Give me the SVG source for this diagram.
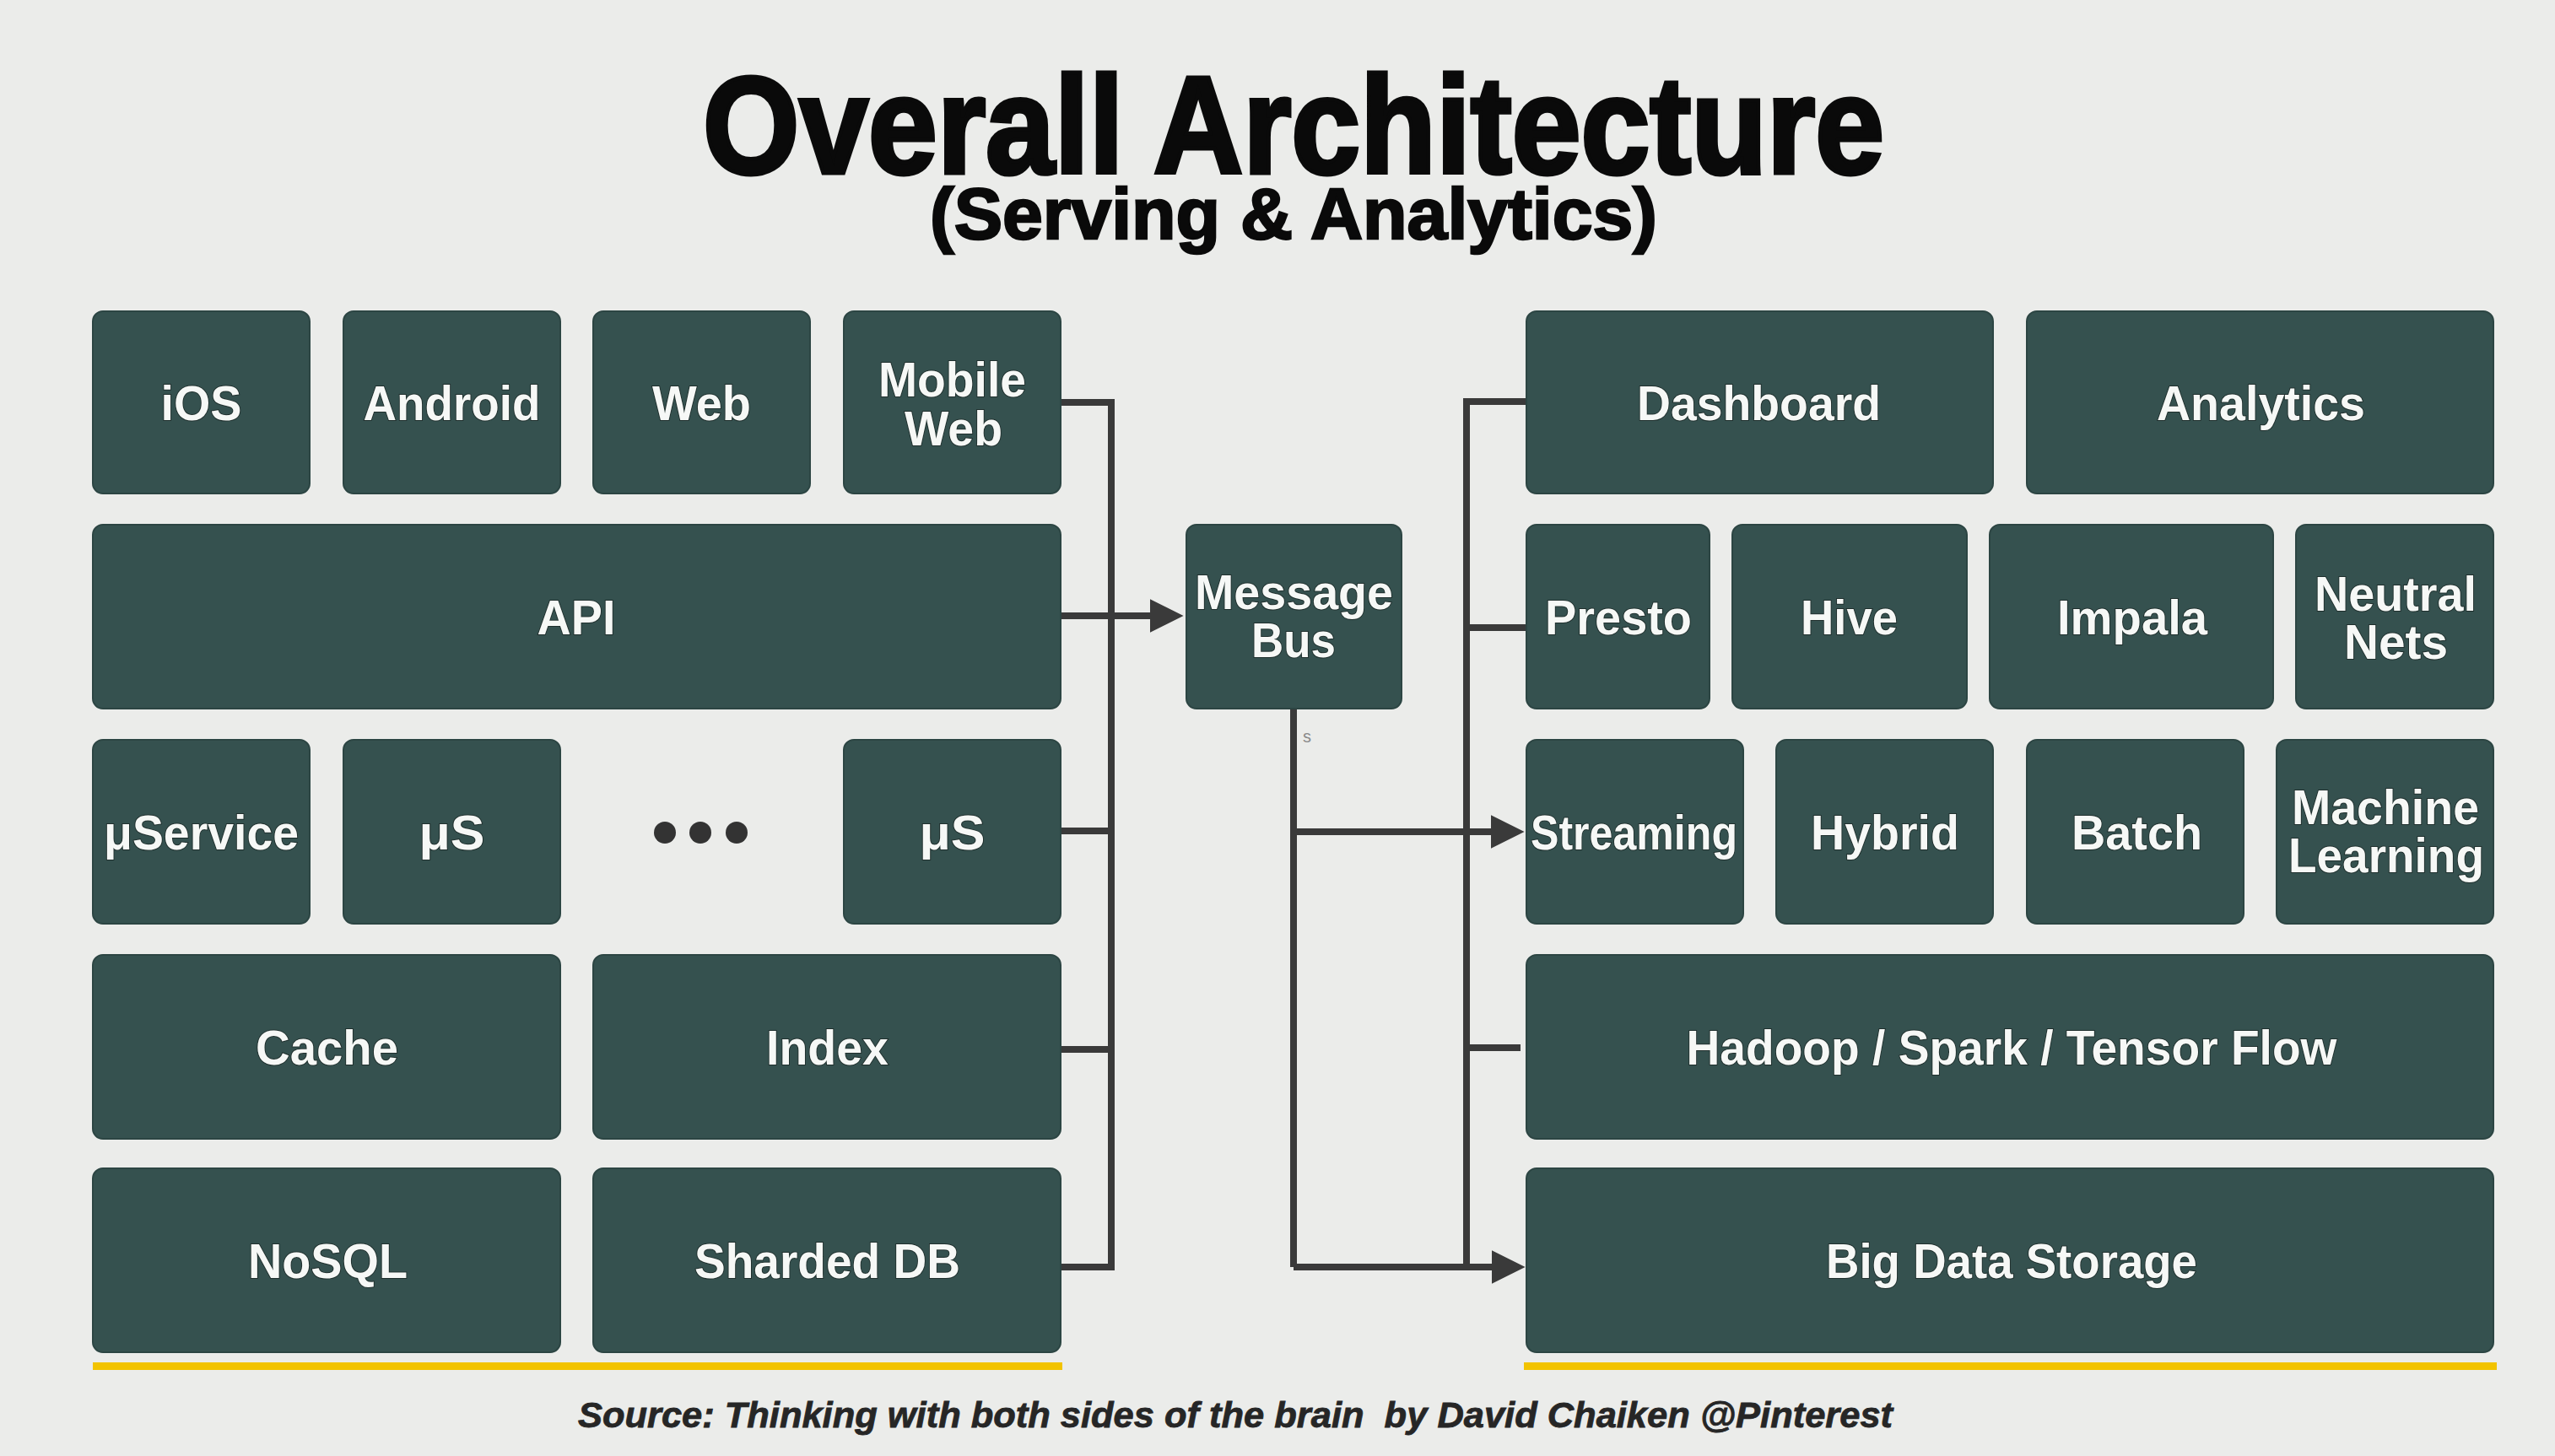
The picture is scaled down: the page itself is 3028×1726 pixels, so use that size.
<svg xmlns="http://www.w3.org/2000/svg" width="3028" height="1726" viewBox="0 0 3028 1726">
<defs>
<style>
.bg{fill:#ebecea}
.box{fill:#35514f;stroke:#2c4543;stroke-width:2}
.lbl{font-family:"Liberation Sans",Arial,sans-serif;font-weight:bold;font-size:58px;fill:#f6f8f6;text-anchor:middle;stroke:#1f2f2d;stroke-width:2;paint-order:stroke}
.title{font-family:"Liberation Sans",Arial,sans-serif;font-weight:bold;fill:#0a0a0a;stroke:#0a0a0a;text-anchor:middle}
.src{font-family:"Liberation Sans",Arial,sans-serif;font-weight:bold;font-style:italic;font-size:42px;fill:#262626;stroke:#262626;stroke-width:0.8;text-anchor:middle}
.con{fill:none;stroke:#3a3a3a;stroke-width:8;stroke-linejoin:miter}
.arr{fill:none;stroke:#3a3a3a;stroke-width:8;marker-end:url(#ah)}
.rule{fill:#f2c300}
.dot{fill:#333}
</style>
<marker id="ah" markerUnits="userSpaceOnUse" markerWidth="40" markerHeight="40" viewBox="0 0 38 38" refX="8" refY="19" orient="auto">
<path d="M0,0 L38,19 L0,38 z" fill="#3a3a3a"/>
</marker>
</defs>
<rect class="bg" x="0" y="0" width="3028" height="1726"/>

<g id="title">
<text class="title" x="1533" y="205" font-size="164" stroke-width="5" textLength="1400" lengthAdjust="spacingAndGlyphs">Overall Architecture</text>
<text class="title" x="1533" y="283" font-size="86" stroke-width="2.5" textLength="862" lengthAdjust="spacingAndGlyphs">(Serving &amp; Analytics)</text>
</g>

<g id="connectors">
<path class="con" d="M1257,477 H1317 V1502 H1257"/>
<path class="con" d="M1257,985 H1317"/>
<path class="con" d="M1257,1244 H1317"/>
<path class="arr" d="M1257,730 H1371"/>
<path class="con" d="M1533,840 V1502"/>
<path class="arr" d="M1533,1502 H1776"/>
<path class="arr" d="M1533,986 H1775"/>
<path class="con" d="M1809,476 H1738 V1502"/>
<path class="con" d="M1738,744 H1809"/>
<path class="con" d="M1738,1242 H1802"/>
<text x="1544" y="880" font-family="Liberation Sans,Arial,sans-serif" font-size="20" fill="#8a8a8a">s</text>
</g>

<g id="ios"><rect class="box" x="110" y="369" width="257" height="216" rx="12"/><text class="lbl" x="238.5" y="498" textLength="96" lengthAdjust="spacingAndGlyphs">iOS</text></g>
<g id="android"><rect class="box" x="407" y="369" width="257" height="216" rx="12"/><text class="lbl" x="535.5" y="498" textLength="210" lengthAdjust="spacingAndGlyphs">Android</text></g>
<g id="web"><rect class="box" x="703" y="369" width="257" height="216" rx="12"/><text class="lbl" x="831.5" y="498" textLength="117" lengthAdjust="spacingAndGlyphs">Web</text></g>
<g id="mobile-web"><rect class="box" x="1000" y="369" width="257" height="216" rx="12"/><text class="lbl" x="1128.5" y="470" textLength="175" lengthAdjust="spacingAndGlyphs">Mobile</text><text class="lbl" x="1130" y="528" textLength="116" lengthAdjust="spacingAndGlyphs">Web</text></g>
<g id="api"><rect class="box" x="110" y="622" width="1147" height="218" rx="12"/><text class="lbl" x="683" y="752" textLength="93" lengthAdjust="spacingAndGlyphs">API</text></g>
<g id="uservice"><rect class="box" x="110" y="877" width="257" height="218" rx="12"/><text class="lbl" x="238.5" y="1007" textLength="231" lengthAdjust="spacingAndGlyphs">μService</text></g>
<g id="us-1"><rect class="box" x="407" y="877" width="257" height="218" rx="12"/><text class="lbl" x="535.5" y="1007" textLength="78" lengthAdjust="spacingAndGlyphs">μS</text></g>
<g id="ellipsis"><circle class="dot" cx="788" cy="987" r="13"/><circle class="dot" cx="830" cy="987" r="13"/><circle class="dot" cx="873" cy="987" r="13"/></g>
<g id="us-2"><rect class="box" x="1000" y="877" width="257" height="218" rx="12"/><text class="lbl" x="1128.5" y="1007" textLength="78" lengthAdjust="spacingAndGlyphs">μS</text></g>
<g id="cache"><rect class="box" x="110" y="1132" width="554" height="218" rx="12"/><text class="lbl" x="387.5" y="1262" textLength="169" lengthAdjust="spacingAndGlyphs">Cache</text></g>
<g id="index"><rect class="box" x="703" y="1132" width="554" height="218" rx="12"/><text class="lbl" x="980.5" y="1262" textLength="145" lengthAdjust="spacingAndGlyphs">Index</text></g>
<g id="nosql"><rect class="box" x="110" y="1385" width="554" height="218" rx="12"/><text class="lbl" x="388.5" y="1515" textLength="189" lengthAdjust="spacingAndGlyphs">NoSQL</text></g>
<g id="sharded-db"><rect class="box" x="703" y="1385" width="554" height="218" rx="12"/><text class="lbl" x="980.5" y="1515" textLength="315" lengthAdjust="spacingAndGlyphs">Sharded DB</text></g>

<g id="message-bus"><rect class="box" x="1406" y="622" width="255" height="218" rx="12"/><text class="lbl" x="1533.5" y="722" textLength="235" lengthAdjust="spacingAndGlyphs">Message</text><text class="lbl" x="1533" y="779" textLength="100" lengthAdjust="spacingAndGlyphs">Bus</text></g>

<g id="dashboard"><rect class="box" x="1809" y="369" width="553" height="216" rx="12"/><text class="lbl" x="2084.5" y="498" textLength="289" lengthAdjust="spacingAndGlyphs">Dashboard</text></g>
<g id="analytics"><rect class="box" x="2402" y="369" width="553" height="216" rx="12"/><text class="lbl" x="2679.5" y="498" textLength="247" lengthAdjust="spacingAndGlyphs">Analytics</text></g>
<g id="presto"><rect class="box" x="1809" y="622" width="217" height="218" rx="12"/><text class="lbl" x="1918" y="752" textLength="174" lengthAdjust="spacingAndGlyphs">Presto</text></g>
<g id="hive"><rect class="box" x="2053" y="622" width="278" height="218" rx="12"/><text class="lbl" x="2191.5" y="752" textLength="115" lengthAdjust="spacingAndGlyphs">Hive</text></g>
<g id="impala"><rect class="box" x="2358" y="622" width="336" height="218" rx="12"/><text class="lbl" x="2527" y="752" textLength="178" lengthAdjust="spacingAndGlyphs">Impala</text></g>
<g id="neutral-nets"><rect class="box" x="2721" y="622" width="234" height="218" rx="12"/><text class="lbl" x="2839" y="724" textLength="192" lengthAdjust="spacingAndGlyphs">Neutral</text><text class="lbl" x="2839.5" y="781" textLength="123" lengthAdjust="spacingAndGlyphs">Nets</text></g>
<g id="streaming"><rect class="box" x="1809" y="877" width="257" height="218" rx="12"/><text class="lbl" x="1936.5" y="1007" textLength="245" lengthAdjust="spacingAndGlyphs">Streaming</text></g>
<g id="hybrid"><rect class="box" x="2105" y="877" width="257" height="218" rx="12"/><text class="lbl" x="2234" y="1007" textLength="176" lengthAdjust="spacingAndGlyphs">Hybrid</text></g>
<g id="batch"><rect class="box" x="2402" y="877" width="257" height="218" rx="12"/><text class="lbl" x="2532.5" y="1007" textLength="155" lengthAdjust="spacingAndGlyphs">Batch</text></g>
<g id="machine-learning"><rect class="box" x="2698" y="877" width="257" height="218" rx="12"/><text class="lbl" x="2827" y="977" textLength="222" lengthAdjust="spacingAndGlyphs">Machine</text><text class="lbl" x="2828" y="1034" textLength="232" lengthAdjust="spacingAndGlyphs">Learning</text></g>
<g id="hadoop"><rect class="box" x="1809" y="1132" width="1146" height="218" rx="12"/><text class="lbl" x="2384" y="1262" textLength="771" lengthAdjust="spacingAndGlyphs">Hadoop / Spark / Tensor Flow</text></g>
<g id="big-data-storage"><rect class="box" x="1809" y="1385" width="1146" height="218" rx="12"/><text class="lbl" x="2384" y="1515" textLength="440" lengthAdjust="spacingAndGlyphs">Big Data Storage</text></g>

<g id="rules">
<rect class="rule" x="110" y="1615" width="1149" height="9"/>
<rect class="rule" x="1806" y="1615" width="1153" height="9"/>
</g>
<g id="source">
<text class="src" x="1464" y="1692" textLength="1558" lengthAdjust="spacingAndGlyphs" xml:space="preserve">Source: Thinking with both sides of the brain  by David Chaiken @Pinterest</text>
</g>
</svg>
